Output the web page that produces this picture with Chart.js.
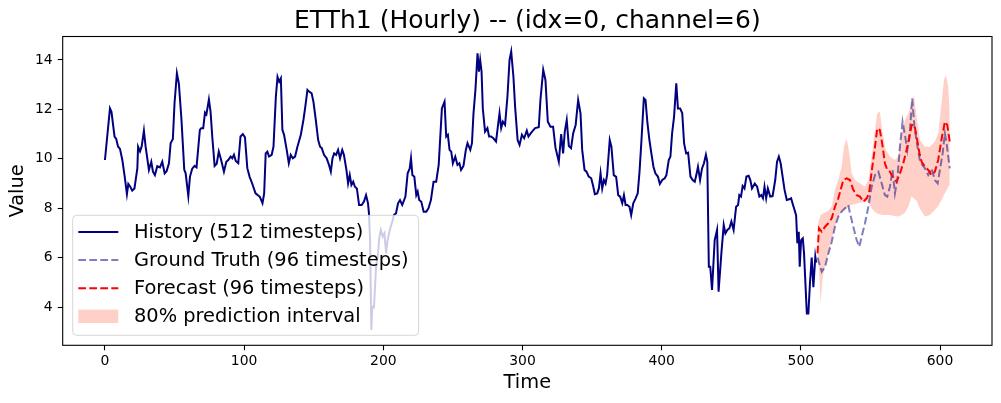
<!DOCTYPE html>
<html>
<head>
<meta charset="utf-8">
<script src="https://cdn.jsdelivr.net/npm/chart.js@4.4.1/dist/chart.umd.min.js"></script>
<style>
  html, body { margin: 0; padding: 0; background: #fff; }
  #wrap { width: 1001px; height: 403px; position: relative; }
</style>
</head>
<body>
<div id="wrap"><canvas id="c"></canvas></div>
<script>
// ---- data ----
const chartTitle = 'ETTh1 (Hourly) -- (idx=0, channel=6)';
const seriesLabels = ['History (512 timesteps)', 'Ground Truth (96 timesteps)', 'Forecast (96 timesteps)', '80% prediction interval'];
const xTicks = [0, 100, 200, 300, 400, 500, 600];
const yTicks = [4, 6, 8, 10, 12, 14];

const histT = [0,3.6,4.7,6.9,8.1,9.4,10.8,12.5,14.2,15.8,16.8,18.2,19.6,21.2,23.3,23.8,25.2,26.4,28,29.2,31.6,33.3,34.5,35.9,37.6,39.5,41.2,42.9,44.3,46,47.2,48.8,50,51.7,53.1,55,57,58,59.9,61.1,62.7,64.4,65.8,68.2,69.2,70.6,71.9,72.9,74.7,75.9,77.1,78.8,80.3,81.8,83.5,85.5,87.2,88.6,90.3,91.5,92.7,94,95.8,97.4,99.1,100.6,102.3,103.9,105.8,108.2,111.3,113.2,114.4,115.5,116.7,117.9,119.8,121.1,122.8,124,125.2,126.4,127.5,128.7,130.6,132.1,133.5,135,136.6,138.3,140.7,142.6,143.8,145.5,146.7,148.5,149.8,151.5,153.2,154.6,155.8,157.4,159.3,161,162.3,163.5,164.7,166.1,167.5,168.9,170.5,171.7,173.5,174.7,175.9,177.1,178.4,179.6,181,182.6,184.5,186.1,187.6,189,189.7,190.5,191.4,192.1,193.3,194.8,196.2,197.2,198.2,199.6,200.8,202,202.9,204.1,205.3,206.5,207.7,209.1,210.6,212,213.6,215.9,217.5,219,219.9,220.9,222.3,223.7,224.7,225.8,227.3,229,230.9,232.5,234.2,236.1,238,239.8,242.1,244,245.2,246.4,247.6,248.8,250,251.7,253.3,254.7,255.9,257.6,259.3,260.5,262.5,263.7,264.8,266.2,267.7,268.7,269.6,270.6,271.5,273.1,274.8,276,277.4,279.1,281,282.3,283.5,284.7,285.9,287.5,289.2,290.7,291.9,293.5,294.7,296.5,297.9,299.6,301.2,303.1,304.3,305.9,307.5,309.1,311.7,312.9,314.9,316.5,318.2,320.1,322,323.7,326.1,327.8,329.2,330.4,331.8,333.3,334.9,336.4,338.2,340,341.7,342.9,344.6,346,347.6,349.4,350.9,352,353.7,354.9,356.1,357.3,358.5,359.7,360.8,362.7,363.9,365.6,367.3,368.8,370.2,371.7,372.9,374.1,375.3,376.9,378.1,379.6,381.3,382.8,384.1,385.5,387.2,388.4,389.8,391.2,392.6,394.1,395.5,397.3,398.7,400.4,402.2,403.4,405.1,406.3,407.5,408.9,410.5,411.7,413.3,414.8,416.1,417.6,419,420.7,422.3,423.8,424.9,426.1,427.6,429,430.4,431.8,432.8,433.9,434.9,436.2,438.1,439.8,440.9,442.9,444.6,445.8,447.2,448.7,450.1,451.7,453.5,454.9,455.8,457,458.2,459.5,460.9,462.5,463.7,464.9,466.9,468.6,470.2,471.6,472.8,473.9,475.1,476.3,478,479.7,481.6,482.9,484.2,485.5,486.9,488.3,489.9,491.6,493,494.4,496.6,497.5,498.5,499.2,500.2,501.4,502.3,503.4,504.3,505.4,506.6,507.8,509,510.4,511];
const histV = [9.95,12.04,11.9,10.9,10.8,10.5,10.4,9.95,9.28,8.57,8.98,8.87,8.71,8.8,9.62,10.49,10.3,10.5,11.14,10.5,9.55,9.88,9.48,9.34,9.7,9.65,9.88,9.41,9.5,9.82,10.63,10.8,12.25,13.46,13.05,11.57,9.55,9.41,8.49,9.28,9.6,9.71,9.65,11.17,11.24,11.24,11.87,11.8,12.4,11.9,10.9,9.71,9.8,10.29,9.95,9.48,9.88,9.95,10.09,10.02,10.16,9.91,9.82,10.9,11.0,10.87,9.62,9.28,9.0,8.6,8.46,8.2,8.6,10.22,10.29,10.09,10.16,10.49,12.51,13.32,13.12,13.26,11.17,10.97,10.36,9.82,10.16,10.02,10.09,10.49,10.96,11.57,12.04,12.79,12.72,12.65,12.31,11.57,10.76,10.49,10.43,10.16,10.02,9.75,9.48,10.02,10.22,10.16,10.36,10.02,10.36,10.16,9.55,9.0,9.34,8.94,9.07,8.87,8.8,8.13,8.13,8.27,8.53,8.2,7.79,6.71,3.07,4.01,3.99,5.63,6.17,6.85,7.12,6.85,6.98,6.17,6.64,6.98,7.25,7.46,7.73,7.79,8.2,8.33,8.13,8.47,9.41,9.61,10.02,9.34,9.27,8.53,8.67,8.33,8.26,7.86,7.86,8.0,8.33,9.07,9.07,9.75,12.04,12.31,10.9,10.97,10.36,10.29,9.82,10.09,9.75,9.82,9.55,9.71,10.36,10.63,10.36,10.63,11.84,12.79,14.27,13.53,14.0,13.53,12.04,11.1,11.24,10.9,10.9,10.83,10.7,11.3,11.84,11.24,11.5,11.37,12.52,14.0,14.34,13.32,12.11,10.76,10.56,10.97,10.83,11.14,10.9,11.03,11.14,11.24,11.28,12.38,13.6,13.19,11.5,11.3,11.3,10.45,9.88,11.0,10.22,11.1,11.57,10.52,10.43,11.03,11.37,12.38,11.84,10.36,9.55,9.48,9.28,9.21,8.87,8.57,8.6,8.8,9.41,8.8,9.14,9.0,9.34,10.76,10.49,9.34,9.27,8.53,8.47,8.2,8.53,8.13,8.13,8.06,7.72,8.2,8.4,8.6,9.48,10.76,12.45,12.38,11.44,10.76,10.22,9.68,9.41,9.28,8.98,9.14,9.21,9.34,9.95,10.09,11.03,11.7,13.05,12.04,12.04,11.84,10.63,10.22,10.25,9.28,9.14,9.07,9.34,9.68,9.14,9.61,9.82,10.16,9.88,5.63,5.63,4.69,6.71,7.12,4.62,6.17,7.32,6.98,7.12,7.19,7.46,7.12,8.06,8.13,8.53,8.47,8.9,8.8,9.28,9.31,9.14,8.8,9.0,8.87,8.47,8.53,8.4,8.87,8.4,8.8,8.47,8.49,9.14,9.88,10.09,9.82,9.28,8.74,8.33,8.36,8.4,8.13,7.72,6.58,7.05,5.63,6.71,6.78,6.17,4.82,3.74,3.74,5.0,6.0,4.8,6.04,5.8];

const truthT = [512,515,517.4,519.8,522.2,524.5,526.9,529.3,531.7,534.1,535.3,537.7,540.1,542,543.7,546.1,548.5,550.9,553.3,555.7,558.1,560.4,562.1,564,565.9,567.6,569.3,571.2,573.1,574.8,576.5,578.4,580,581.6,583.6,585.5,587.3,589.2,591.5,593.9,596.3,598.3,599.9,601.9,603.5,604.7,607];
const truthV = [6.0,5.43,5.63,6.17,6.64,7.25,7.66,7.86,8.0,8.13,7.8,7.25,6.71,6.44,6.85,7.39,8.06,8.87,9.34,9.48,9.0,8.53,8.47,8.87,9.55,8.6,9.14,10.49,11.5,10.96,10.36,11.16,12.45,11.3,10.56,9.95,9.75,9.61,9.34,9.61,9.14,9.0,9.55,10.22,11.03,10.63,9.61];

const fcT = [512,513,515,517.4,519.7,522.2,524.5,526.9,528.6,530.5,532.9,535.3,537.7,540.1,542.5,544.9,547.3,549,550.9,553.3,554.9,556.8,558.8,560.4,562.1,564,566.4,568.8,571.2,573.6,576,577.9,579.6,581.6,583.6,585.5,586.8,589.2,591.5,593.9,596.3,598.7,601.2,603.5,605.2,607];
const fcV = [6.17,7.19,7.05,7.25,7.39,7.59,8.06,8.4,8.74,9.14,9.21,9.14,8.74,8.53,8.47,8.26,8.4,8.6,9.48,10.49,11.23,11.16,10.49,9.82,9.55,9.48,9.21,9.07,9.41,9.82,10.36,10.83,11.37,11.37,10.76,10.15,9.88,9.68,9.55,9.34,9.48,9.95,10.83,11.5,11.37,10.69];

const bandT = [512,513,514.2,515.7,517.3,519.7,522.1,524.5,526.9,529.3,531,532.9,534.8,536.5,538.9,542.5,546.1,548.5,550.9,553.2,554.9,556.8,558.7,561.1,564,567.6,570,572.4,574.8,577.2,579.6,581.2,583.2,585.5,589.1,592.7,596.3,598.7,601.1,602.8,604.2,605.9,607];
const bandLo = [5.9,5.63,4.15,5.22,5.63,6.17,6.71,7.25,7.66,7.86,7.95,7.99,8.09,8.13,8.17,8.22,8.26,8.26,7.99,7.86,7.79,7.75,7.72,7.72,7.72,7.68,7.66,7.72,7.82,8.06,8.47,8.4,8.3,7.99,7.66,7.72,7.93,8.09,8.33,8.53,8.67,8.87,8.94];
const bandHi = [7.32,7.52,7.72,7.79,7.82,7.9,8.06,8.74,9.14,9.68,10.49,10.83,10.22,9.41,9.14,9.01,8.87,9.14,10.09,11.17,11.84,11.91,11.03,10.36,10.09,9.95,10.09,11.03,11.57,11.84,12.25,12.58,11.71,10.76,10.49,10.49,10.69,11.03,12.25,13.19,13.39,12.92,11.84];

const pts = (xs, ys) => xs.map((x, i) => ({ x: x, y: ys[i] }));
const FONT = "'DejaVu Sans', 'Liberation Sans', sans-serif";
const DASH = [7.7, 3.3];

// title, frame and matplotlib-style legend drawn over the plot
const decor = {
  id: 'decor',
  afterDraw(chart) {
    const c = chart.ctx, a = chart.chartArea;
    c.save();
    // title
    c.fillStyle = '#000';
    c.font = '25px ' + FONT;
    c.textAlign = 'center';
    c.textBaseline = 'middle';
    c.fillText(chartTitle, (a.left + a.right) / 2, 21);
    // frame
    c.strokeStyle = '#000';
    c.lineWidth = 1.1;
    c.strokeRect(a.left, a.top, a.right - a.left, a.bottom - a.top);
    // legend
    c.font = '19.4px ' + FONT;
    const items = chart.data.datasets.filter(d => !d.hideInLegend);
    const boxL = a.left + 10, boxB = a.bottom - 10;
    const rowH = 28.1, textX = boxL + 61.3;
    const h = items.length * rowH + 7.6;
    let w = 0;
    items.forEach(d => { w = Math.max(w, c.measureText(d.label).width); });
    w = textX - boxL + w + 10;
    const boxT = boxB - h;
    c.beginPath();
    c.roundRect(boxL, boxT, w, h, 4);
    c.fillStyle = 'rgba(255,255,255,0.8)';
    c.fill();
    c.strokeStyle = 'rgba(204,204,204,0.8)';
    c.lineWidth = 1;
    c.stroke();
    items.forEach((d, i) => {
      const y = boxT + 16.7 + i * rowH;
      if (d.fill) {
        c.fillStyle = d.backgroundColor;
        c.fillRect(boxL + 5.6, y - 6.7, 40, 13.4);
      } else {
        c.beginPath();
        c.setLineDash(d.borderDash || []);
        c.strokeStyle = d.borderColor;
        c.lineWidth = d.borderWidth;
        c.moveTo(boxL + 5.6, y);
        c.lineTo(boxL + 45.6, y);
        c.stroke();
        c.setLineDash([]);
      }
      c.fillStyle = '#000';
      c.textAlign = 'left';
      c.textBaseline = 'middle';
      c.fillText(d.label, textX, y + 1);
    });
    c.restore();
  }
};

const tickFont = { family: FONT, size: 13.9 };
const titleFont = { family: FONT, size: 19.4 };

new Chart(document.getElementById('c'), {
  type: 'line',
  data: {
    datasets: [
      { label: seriesLabels[0], data: pts(histT, histV), borderColor: '#000080', borderWidth: 2, pointRadius: 0, fill: false, order: 1 },
      { label: seriesLabels[1], data: pts(truthT, truthV), borderColor: 'rgba(0,0,128,0.5)', borderWidth: 2, borderDash: DASH, pointRadius: 0, fill: false, order: 2 },
      { label: seriesLabels[2], data: pts(fcT, fcV), borderColor: '#ff0000', borderWidth: 2, borderDash: DASH, pointRadius: 0, fill: false, order: 0 },
      { label: 'lower', hideInLegend: true, data: pts(bandT, bandLo), borderColor: 'rgba(0,0,0,0)', borderWidth: 0, pointRadius: 0, fill: false, order: 5 },
      { label: seriesLabels[3], data: pts(bandT, bandHi), borderColor: 'rgba(0,0,0,0)', borderWidth: 0, backgroundColor: 'rgba(255,99,71,0.3)', pointRadius: 0, fill: '-1', order: 4 }
    ]
  },
  options: {
    responsive: true,
    maintainAspectRatio: false,
    animation: false,
    layout: { padding: { left: 0, right: 9, top: 36.5, bottom: 0 } },
    plugins: { legend: { display: false }, title: { display: false }, tooltip: { enabled: false } },
    scales: {
      x: {
        type: 'linear',
        min: -30.35,
        max: 637.35,
        afterBuildTicks: s => { s.ticks = xTicks.map(v => ({ value: v })); },
        afterFit: s => { s.height = 57.7; },
        ticks: { font: tickFont, color: '#000', padding: 3, maxRotation: 0, autoSkip: false },
        grid: { drawOnChartArea: false, drawTicks: true, tickLength: 5, tickColor: '#000', tickWidth: 1.1 },
        border: { display: false },
        title: { display: true, text: 'Time', font: titleFont, color: '#000', padding: { top: 4, bottom: 8.4 } }
      },
      y: {
        type: 'linear',
        min: 2.45,
        max: 14.95,
        afterBuildTicks: s => { s.ticks = yTicks.map(v => ({ value: v })); },
        afterFit: s => { s.width = 62.7; },
        ticks: { font: tickFont, color: '#000', padding: 5, autoSkip: false },
        grid: { drawOnChartArea: false, drawTicks: true, tickLength: 5, tickColor: '#000', tickWidth: 1.1 },
        border: { display: false },
        title: { display: true, text: 'Value', font: titleFont, color: '#000', padding: { top: 5.9, bottom: 0 } }
      }
    }
  },
  plugins: [decor]
});
</script>
</body>
</html>
